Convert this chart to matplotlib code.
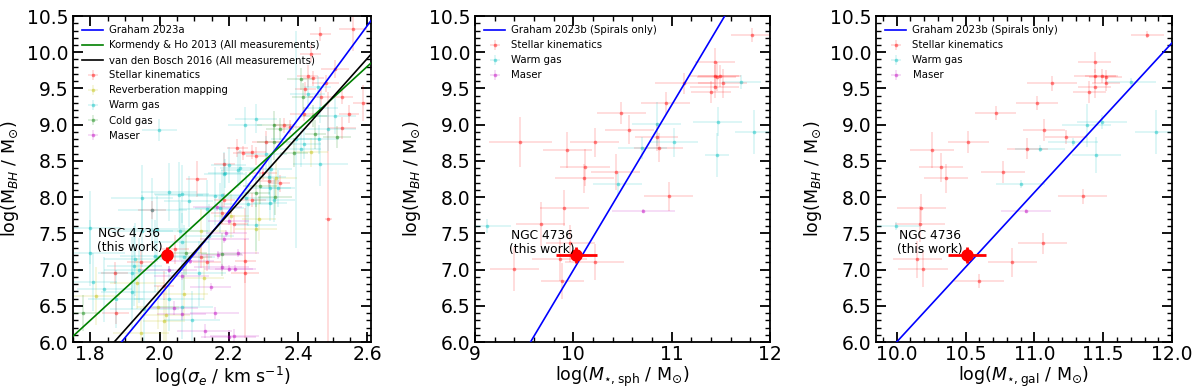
import matplotlib
matplotlib.use("Agg")
import matplotlib.pyplot as plt
from matplotlib.ticker import MultipleLocator
from matplotlib.colors import to_rgba

# ---------------- Panel 1: M_BH - sigma ----------------
p1_sk_x = [2.559, 2.464, 2.507, 2.427, 2.444, 2.479, 2.421, 2.467, 2.527, 2.587,
           2.547, 2.416, 2.359, 2.376, 2.307, 2.224, 2.241, 2.267, 2.279, 2.187,
           2.299, 2.316, 2.347, 2.267, 2.187, 2.216, 2.247, 2.247, 2.107, 1.979,
           2.044, 1.947, 1.870, 2.013, 1.873, 2.527, 2.436, 2.121, 2.136, 2.179,
           2.487]
p1_sk_y = [10.32, 10.25, 9.77, 9.67, 9.64, 9.57, 9.49, 9.38, 9.38, 9.30,
           9.15, 9.15, 8.99, 8.97, 8.76, 8.68, 8.61, 8.62, 8.57, 8.46,
           8.33, 8.22, 8.19, 7.96, 7.96, 7.63, 7.12, 6.95, 8.25, 7.82,
           7.28, 7.10, 6.95, 6.78, 6.40, 8.95, 9.98, 7.17, 7.10, 7.78,
           7.70]
p1_sk_xerr = [0.04, 0.03, 0.04, 0.03, 0.03, 0.04, 0.03, 0.04, 0.03, 0.03,
              0.03, 0.04, 0.03, 0.03, 0.04, 0.03, 0.03, 0.04, 0.03, 0.03,
              0.04, 0.03, 0.03, 0.04, 0.03, 0.04, 0.03, 0.04, 0.03, 0.04,
              0.04, 0.04, 0.04, 0.03, 0.04, 0.04, 0.03, 0.03, 0.04, 0.03,
              0.01]
p1_sk_yerr = [0.30, 0.10, 0.12, 0.15, 0.10, 0.12, 0.10, 0.12, 0.10, 0.25,
              0.12, 0.10, 0.10, 0.10, 0.15, 0.12, 0.10, 0.10, 0.12, 0.15,
              0.10, 0.10, 0.12, 0.10, 0.10, 0.12, 0.30, 0.90, 0.25, 0.12,
              0.20, 0.15, 0.15, 0.20, 0.15, 0.15, 0.12, 0.15, 0.12, 0.15,
              1.75]

p1_rm_x = [2.436, 2.336, 2.287, 2.279, 2.121, 1.936, 1.996, 1.816, 1.947, 2.013,
           2.070, 2.207, 2.127, 2.019]
p1_rm_y = [8.62, 8.26, 7.70, 7.56, 7.53, 6.81, 6.48, 6.63, 6.12, 6.29,
           6.66, 7.74, 6.88, 6.37]
p1_rm_xerr = [0.05, 0.06, 0.05, 0.06, 0.07, 0.08, 0.06, 0.07, 0.08, 0.06,
              0.07, 0.05, 0.06, 0.07]
p1_rm_yerr = [0.20, 0.25, 0.30, 0.35, 0.30, 0.35, 0.30, 0.40, 0.35, 0.30,
              0.35, 0.30, 0.30, 0.35]

p1_wg_x = [1.999, 2.279, 2.247, 2.190, 2.233, 2.456, 2.427, 2.507, 2.464, 2.487,
           2.459, 2.393, 2.307, 2.416, 2.407, 2.464, 2.199, 2.321, 2.227, 2.187,
           2.316, 2.319, 2.341, 2.250, 2.330, 2.256, 2.319, 2.279, 2.064, 2.084,
           1.979, 2.136, 2.173, 1.993, 1.950, 2.059, 2.144, 2.064, 1.987, 1.799,
           1.930, 1.927, 2.070, 1.921, 2.113, 1.807, 1.841, 1.921, 2.027, 1.873,
           2.064, 2.093, 1.956, 1.950, 2.027, 2.056, 2.161, 2.179, 1.799, 1.941]
p1_wg_y = [8.93, 9.08, 8.99, 8.33, 8.40, 9.52, 9.42, 9.12, 9.23, 8.94,
           8.80, 8.80, 8.59, 8.73, 8.66, 8.46, 8.44, 8.39, 8.37, 8.32,
           8.28, 8.12, 8.12, 7.99, 7.96, 7.90, 7.92, 7.61, 8.04, 7.94,
           7.82, 7.83, 7.85, 7.56, 7.53, 7.53, 7.46, 7.38, 7.19, 7.23,
           7.14, 7.05, 7.17, 6.95, 6.95, 6.83, 6.73, 6.69, 6.60, 6.60,
           6.49, 6.31, 6.45, 7.99, 8.07, 8.03, 8.01, 8.03, 7.58, 6.99]
p1_wg_xerr = [0.05, 0.06, 0.05, 0.05, 0.06, 0.04, 0.05, 0.06, 0.05, 0.08,
              0.06, 0.07, 0.06, 0.05, 0.06, 0.08, 0.05, 0.06, 0.05, 0.06,
              0.05, 0.06, 0.05, 0.08, 0.06, 0.07, 0.05, 0.06, 0.08, 0.07,
              0.10, 0.08, 0.07, 0.10, 0.09, 0.08, 0.07, 0.08, 0.10, 0.10,
              0.09, 0.08, 0.09, 0.10, 0.08, 0.07, 0.08, 0.09, 0.10, 0.08,
              0.09, 0.08, 0.10, 0.09, 0.08, 0.07, 0.08, 0.07, 0.09, 0.10]
p1_wg_yerr = [0.15, 0.20, 0.25, 0.20, 0.25, 0.15, 0.20, 0.25, 0.20, 0.30,
              0.20, 1.50, 0.25, 0.20, 0.25, 0.30, 0.25, 0.20, 0.25, 0.30,
              0.25, 0.30, 0.25, 0.35, 0.30, 0.30, 0.25, 0.35, 0.40, 0.35,
              0.45, 0.40, 0.35, 0.45, 0.50, 0.40, 0.45, 0.40, 0.50, 0.45,
              0.50, 0.55, 0.45, 0.50, 0.45, 0.40, 0.45, 0.50, 0.45, 0.40,
              0.45, 0.40, 0.50, 0.45, 0.40, 0.45, 0.40, 0.35, 0.50, 0.45]

p1_cg_x = [2.407, 2.413, 2.444, 2.330, 2.347, 2.450, 2.513, 2.330, 2.387, 2.290,
           2.279, 2.333, 2.179, 1.779, 2.076]
p1_cg_y = [9.63, 9.38, 9.12, 8.99, 8.94, 8.87, 8.83, 8.76, 8.61, 8.15,
           8.06, 8.00, 7.21, 6.40, 7.23]
p1_cg_xerr = [0.04, 0.03, 0.04, 0.05, 0.04, 0.03, 0.04, 0.05, 0.04, 0.05,
              0.04, 0.05, 0.06, 0.05, 0.06]
p1_cg_yerr = [0.15, 0.20, 0.15, 0.20, 0.15, 0.20, 0.15, 0.25, 0.20, 0.25,
              0.20, 0.25, 0.30, 0.25, 0.30]

p1_ms_x = [2.199, 2.187, 2.227, 2.179, 2.199, 2.219, 2.216, 2.199, 2.087, 2.064,
           2.159, 2.130, 2.064, 2.147, 2.170, 2.193, 2.167, 2.027, 2.041]
p1_ms_y = [7.67, 7.42, 7.23, 7.03, 7.01, 7.01, 6.08, 6.07, 7.12, 6.91,
           6.40, 6.15, 6.38, 6.76, 7.20, 7.50, 7.86, 7.00, 6.47]
p1_ms_xerr = [0.06, 0.07, 0.06, 0.08, 0.07, 0.06, 0.07, 0.08, 0.07, 0.08,
              0.07, 0.08, 0.07, 0.06, 0.07, 0.06, 0.07, 0.08, 0.07]
p1_ms_yerr = [0.05, 0.05, 0.05, 0.05, 0.05, 0.05, 0.10, 0.10, 0.05, 0.05,
              0.08, 0.10, 0.08, 0.05, 0.05, 0.05, 0.05, 0.05, 0.10]

g23a_x = [1.89, 2.18, 2.44, 2.62]
g23a_y = [6.00, 7.68, 9.33, 10.50]
kh13_x = [1.75, 2.61]
kh13_y = [6.08, 9.85]
vdb16_x = [1.869, 2.61]
vdb16_y = [6.00, 9.97]

# ---------------- Panel 2: M_BH - M_*,sph ----------------
p2_sk_x = [9.46, 9.94, 10.22, 10.49, 10.57, 10.12, 10.43, 10.11, 10.85, 10.87,
           10.94, 11.13, 11.44, 11.44, 11.46, 11.49, 11.52, 11.44, 11.40, 11.82,
           10.97, 9.91, 9.67, 9.97, 9.86, 10.22, 9.40, 9.89]
p2_sk_y = [8.76, 8.65, 8.76, 9.16, 8.93, 8.41, 8.35, 8.26, 8.83, 8.68,
           9.30, 9.57, 9.86, 9.67, 9.66, 9.67, 9.57, 9.52, 9.45, 10.24,
           8.01, 7.85, 7.63, 7.36, 7.14, 7.10, 7.01, 6.84]
p2_sk_xerr = [0.32, 0.25, 0.25, 0.25, 0.25, 0.25, 0.25, 0.30, 0.22, 0.25,
              0.25, 0.30, 0.20, 0.25, 0.20, 0.22, 0.25, 0.25, 0.20, 0.22,
              0.25, 0.25, 0.25, 0.25, 0.28, 0.30, 0.25, 0.22]
p2_sk_yerr = [0.35, 0.25, 0.20, 0.15, 0.20, 0.25, 0.25, 0.20, 0.20, 0.20,
              0.15, 0.15, 0.20, 0.15, 0.20, 0.15, 0.20, 0.15, 0.15, 0.10,
              0.20, 0.25, 0.30, 0.25, 0.30, 0.25, 0.30, 0.25]

p2_wg_x = [10.70, 10.85, 11.02, 11.71, 11.47, 11.84, 11.46, 10.45, 9.12]
p2_wg_y = [8.68, 9.01, 8.76, 9.59, 9.04, 8.90, 8.58, 8.18, 7.60]
p2_wg_xerr = [0.25, 0.25, 0.25, 0.20, 0.25, 0.20, 0.12, 0.25, 0.25]
p2_wg_yerr = [0.15, 0.30, 0.20, 0.10, 0.20, 0.30, 0.30, 0.15, 0.10]

p2_ms_x = [10.71]
p2_ms_y = [7.81]
p2_ms_xerr = [0.32]
p2_ms_yerr = [0.03]

g23b_sph_x = [9.565, 11.54]
g23b_sph_y = [6.00, 10.50]

# ---------------- Panel 3: M_BH - M_*,gal ----------------
p3_sk_x = [11.82, 11.44, 11.44, 11.49, 11.52, 11.44, 11.52, 11.40, 11.13, 11.02,
           10.72, 11.07, 11.23, 10.52, 10.95, 10.26, 10.32, 10.77, 10.36, 11.35,
           10.18, 10.17, 11.06, 10.15, 10.84, 10.19, 10.60]
p3_sk_y = [10.24, 9.86, 9.67, 9.67, 9.66, 9.52, 9.57, 9.45, 9.57, 9.30,
           9.16, 8.93, 8.83, 8.76, 8.67, 8.65, 8.41, 8.35, 8.26, 8.01,
           7.85, 7.63, 7.36, 7.14, 7.10, 7.01, 6.84]
p3_sk_xerr = [0.12, 0.12, 0.15, 0.12, 0.12, 0.12, 0.10, 0.12, 0.18, 0.15,
              0.15, 0.15, 0.15, 0.15, 0.15, 0.16, 0.16, 0.16, 0.16, 0.18,
              0.18, 0.18, 0.18, 0.18, 0.18, 0.18, 0.18]
p3_sk_yerr = [0.05, 0.15, 0.10, 0.10, 0.10, 0.15, 0.10, 0.15, 0.10, 0.10,
              0.10, 0.15, 0.10, 0.15, 0.15, 0.25, 0.20, 0.15, 0.20, 0.10,
              0.20, 0.25, 0.15, 0.25, 0.20, 0.25, 0.10]

p3_wg_x = [11.70, 11.38, 11.49, 11.88, 11.28, 11.04, 11.45, 10.90, 9.995]
p3_wg_y = [9.59, 8.99, 9.04, 8.90, 8.76, 8.67, 8.58, 8.18, 7.60]
p3_wg_xerr = [0.18, 0.18, 0.18, 0.15, 0.18, 0.18, 0.18, 0.18, 0.18]
p3_wg_yerr = [0.05, 0.30, 0.10, 0.30, 0.05, 0.05, 0.25, 0.05, 0.05]

p3_ms_x = [10.94]
p3_ms_y = [7.81]
p3_ms_xerr = [0.18]
p3_ms_yerr = [0.03]

g23b_gal_x = [10.00, 12.00]
g23b_gal_y = [6.00, 10.13]

# ---------------- NGC 4736 (this work) ----------------
ngc_y, ngc_yerr = 7.20, 0.11
ngc_sigma, ngc_sigma_err = 2.02, 0.01
ngc_msph, ngc_msph_err = 10.03, 0.21
ngc_mgal, ngc_mgal_err = 10.51, 0.14

plt.rcParams['font.family'] = ['DejaVu Sans']
fig = plt.figure(figsize=(12, 3.89), dpi=100)
ax1 = fig.add_axes([0.0608, 0.1208, 0.2483, 0.838])
ax2 = fig.add_axes([0.3958, 0.1208, 0.2458, 0.838])
ax3 = fig.add_axes([0.7300, 0.1208, 0.2467, 0.838])


def cat(ax, x, y, xe, ye, color, label):
    ax.errorbar(x, y, xerr=xe, yerr=ye, fmt='o', ms=2.6, mew=0,
                color=to_rgba(color, 0.45), ecolor=to_rgba(color, 0.16),
                elinewidth=1.2, capsize=0, label=label, zorder=2)


# panel 1
ax1.plot(g23a_x, g23a_y, color='blue', lw=1.2, label='Graham 2023a', zorder=4)
ax1.plot(kh13_x, kh13_y, color='green', lw=1.2,
         label='Kormendy & Ho 2013 (All measurements)', zorder=4)
ax1.plot(vdb16_x, vdb16_y, color='black', lw=1.2,
         label='van den Bosch 2016 (All measurements)', zorder=4)
cat(ax1, p1_sk_x, p1_sk_y, p1_sk_xerr, p1_sk_yerr, 'red', 'Stellar kinematics')
cat(ax1, p1_rm_x, p1_rm_y, p1_rm_xerr, p1_rm_yerr, 'y', 'Reverberation mapping')
cat(ax1, p1_wg_x, p1_wg_y, p1_wg_xerr, p1_wg_yerr, 'c', 'Warm gas')
cat(ax1, p1_cg_x, p1_cg_y, p1_cg_xerr, p1_cg_yerr, 'green', 'Cold gas')
cat(ax1, p1_ms_x, p1_ms_y, p1_ms_xerr, p1_ms_yerr, 'm', 'Maser')
ax1.errorbar([ngc_sigma], [ngc_y], xerr=[ngc_sigma_err], yerr=[ngc_yerr], fmt='o',
             ms=8, color='red', elinewidth=2, capsize=0, zorder=6)
ax1.text(1.913, 7.40, 'NGC 4736\n(this work)', ha='center', va='center',
         fontsize=8.8, linespacing=1.1, zorder=7)
ax1.set_xlim(1.75, 2.61)
ax1.xaxis.set_major_locator(MultipleLocator(0.2))
ax1.xaxis.set_minor_locator(MultipleLocator(0.05))
ax1.set_xlabel(r'log($\sigma_e$ / km s$^{-1}$)', fontsize=12.5, labelpad=0)

# panel 2
ax2.plot(g23b_sph_x, g23b_sph_y, color='blue', lw=1.2,
         label='Graham 2023b (Spirals only)', zorder=4)
cat(ax2, p2_sk_x, p2_sk_y, p2_sk_xerr, p2_sk_yerr, 'red', 'Stellar kinematics')
cat(ax2, p2_wg_x, p2_wg_y, p2_wg_xerr, p2_wg_yerr, 'c', 'Warm gas')
cat(ax2, p2_ms_x, p2_ms_y, p2_ms_xerr, p2_ms_yerr, 'm', 'Maser')
ax2.errorbar([ngc_msph], [ngc_y], xerr=[ngc_msph_err], yerr=[ngc_yerr], fmt='o',
             ms=8, color='red', elinewidth=2, capsize=0, zorder=6)
ax2.text(9.68, 7.38, 'NGC 4736\n(this work)', ha='center', va='center',
         fontsize=8.8, linespacing=1.1, zorder=7)
ax2.set_xlim(9, 12)
ax2.xaxis.set_major_locator(MultipleLocator(1))
ax2.xaxis.set_minor_locator(MultipleLocator(0.2))
ax2.set_xlabel(r'log($M_{\star,\mathrm{sph}}$ / M$_{\odot}$)', fontsize=12.5,
               labelpad=0)

# panel 3
ax3.plot(g23b_gal_x, g23b_gal_y, color='blue', lw=1.2,
         label='Graham 2023b (Spirals only)', zorder=4)
cat(ax3, p3_sk_x, p3_sk_y, p3_sk_xerr, p3_sk_yerr, 'red', 'Stellar kinematics')
cat(ax3, p3_wg_x, p3_wg_y, p3_wg_xerr, p3_wg_yerr, 'c', 'Warm gas')
cat(ax3, p3_ms_x, p3_ms_y, p3_ms_xerr, p3_ms_yerr, 'm', 'Maser')
ax3.errorbar([ngc_mgal], [ngc_y], xerr=[ngc_mgal_err], yerr=[ngc_yerr], fmt='o',
             ms=8, color='red', elinewidth=2, capsize=0, zorder=6)
ax3.text(10.24, 7.38, 'NGC 4736\n(this work)', ha='center', va='center',
         fontsize=8.8, linespacing=1.1, zorder=7)
ax3.set_xlim(9.85, 12.0)
ax3.xaxis.set_major_locator(MultipleLocator(0.5))
ax3.xaxis.set_minor_locator(MultipleLocator(0.1))
ax3.set_xlabel(r'log($M_{\star,\mathrm{gal}}$ / M$_{\odot}$)', fontsize=12.5,
               labelpad=0)

for ax in (ax1, ax2, ax3):
    ax.set_ylim(6.0, 10.5)
    ax.yaxis.set_major_locator(MultipleLocator(0.5))
    ax.yaxis.set_minor_locator(MultipleLocator(0.1))
    ax.yaxis.set_major_formatter(plt.FormatStrFormatter('%.1f'))
    ax.set_ylabel(r'log(M$_{BH}$ / M$_{\odot}$)', fontsize=12.5)
    ax.tick_params(which='both', direction='in', top=True, right=True)
    ax.tick_params(which='major', length=7, width=1.3, labelsize=13.5)
    ax.tick_params(axis='x', which='major', pad=2.5)
    ax.tick_params(which='minor', length=3.5, width=1.0)
    for s in ax.spines.values():
        s.set_linewidth(1.3)
    ax.legend(loc='upper left', frameon=False, fontsize=7.3, handlelength=2.1,
              handletextpad=0.6)

ax3.xaxis.set_major_formatter(plt.FormatStrFormatter('%.1f'))

fig.savefig('out.png', dpi=100)
